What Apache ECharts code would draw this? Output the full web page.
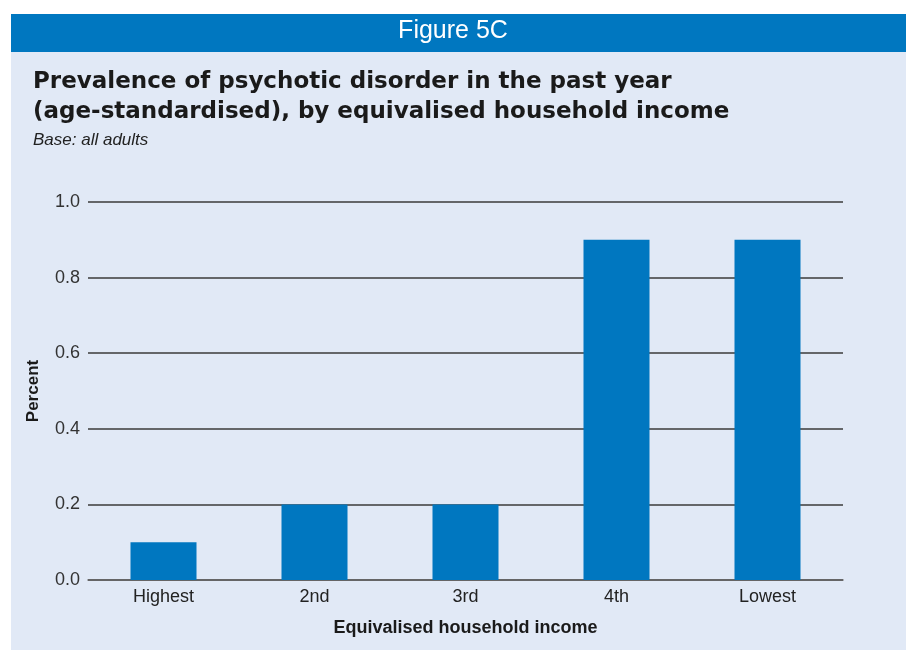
<!DOCTYPE html>
<html><head><meta charset="utf-8">
<script src="https://cdn.jsdelivr.net/npm/echarts@6/dist/echarts.min.js"></script>
<style>html,body{margin:0;padding:0;background:#fff}#c{width:906px;height:650px}</style>
</head><body><div id="c"></div>
<script>
const categories = ['Highest', '2nd', '3rd', '4th', 'Lowest'];
const values = [0.1, 0.2, 0.2, 0.9, 0.9];
const yTicks = [0, 0.2, 0.4, 0.6, 0.8, 1.0];

const chart = echarts.init(document.getElementById('c'));
chart.setOption({
  backgroundColor: '#ffffff',
  animation: false,
  graphic: [
    { type: 'rect', z: -10, shape: { x: 11, y: 52, width: 895, height: 598 }, style: { fill: '#E1E9F6' } },
    { type: 'rect', z: -10, shape: { x: 11, y: 14, width: 895, height: 38 }, style: { fill: '#0077C0' } },
    { type: 'text', left: 'center', top: 19, style: { text: 'Figure 5C', fill: '#ffffff', font: '25px "Liberation Sans", sans-serif' } },
    { type: 'text', left: 33, top: 67, style: { text: 'Prevalence of psychotic disorder in the past year\n(age-standardised), by equivalised household income', fill: '#1a1a1a', font: 'bold 23px "DejaVu Sans", sans-serif', lineHeight: 30 } },
    { type: 'text', left: 33, top: 132, style: { text: 'Base: all adults', fill: '#222', font: 'italic 17px "Liberation Sans", sans-serif' } }
  ],
  grid: { left: 88, right: 63, top: 202, bottom: 70, containLabel: false },
  xAxis: {
    type: 'category', data: categories,
    name: 'Equivalised household income', nameLocation: 'middle', nameGap: 39,
    nameTextStyle: { fontSize: 18, fontWeight: 'bold', color: '#1a1a1a', fontFamily: '"Liberation Sans", sans-serif' },
    axisLine: { show: true, lineStyle: { color: '#666', width: 1.5 } },
    axisTick: { show: false },
    axisLabel: { fontSize: 18, color: '#222', margin: 8, fontFamily: '"Liberation Sans", sans-serif' }
  },
  yAxis: {
    type: 'value', min: 0, max: 1, interval: 0.2,
    name: 'Percent', nameLocation: 'middle', nameGap: 46,
    nameTextStyle: { fontSize: 17, fontWeight: 'bold', color: '#1a1a1a', fontFamily: '"Liberation Sans", sans-serif' },
    axisLine: { show: false }, axisTick: { show: false },
    axisLabel: { fontSize: 18, color: '#333', margin: 8, formatter: v => yTicks.includes(+v.toFixed(1)) ? v.toFixed(1) : '', fontFamily: '"Liberation Sans", sans-serif' },
    splitLine: { show: true, lineStyle: { color: '#3a3a3a', width: 1.5 } }
  },
  series: [{
    type: 'bar', data: values, barWidth: 66,
    itemStyle: { color: '#0077C0' }
  }]
});
</script></body></html>
